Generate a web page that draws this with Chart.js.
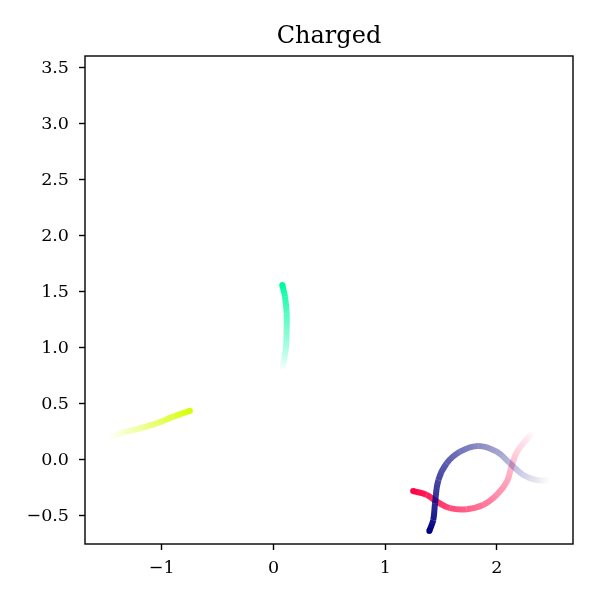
<!DOCTYPE html>
<html>
<head>
<meta charset="utf-8">
<script src="https://cdn.jsdelivr.net/npm/chart.js@4/dist/chart.umd.min.js"></script>
<style>
  body { margin: 0; background: #fff; }
  #grafico { display: block; }
</style>
</head>
<body>
<canvas id="grafico" width="600" height="600"></canvas>
<script>
// trajetórias (da cauda apagada até a cabeça sólida)
const navyX = [2.475, 2.356, 2.236, 2.117, 1.998, 1.834, 1.67, 1.55, 1.476, 1.446, 1.43, 1.395];
const navyY = [-0.179, -0.179, -0.134, -0.03, 0.074, 0.125, 0.074, -0.03, -0.179, -0.387, -0.536, -0.634];

const redX = [2.33, 2.27, 2.18, 2.13, 2.09, 2.0, 1.88, 1.73, 1.58, 1.46, 1.37, 1.25];
const redY = [0.25, 0.19, 0.074, -0.06, -0.19, -0.31, -0.40, -0.44, -0.43, -0.37, -0.31, -0.277];

const greenX = [0.073, 0.094, 0.112, 0.118, 0.118, 0.103, 0.079];
const greenY = [0.80, 0.89, 1.01, 1.16, 1.31, 1.458, 1.5625];

const limeX = [-1.479, -1.345, -1.195, -1.046, -0.897, -0.748];
const limeY = [0.203, 0.244, 0.283, 0.327, 0.387, 0.44];

const xTicks = [-1, 0, 1, 2];
const yTicks = [-0.5, 0, 0.5, 1, 1.5, 2, 2.5, 3, 3.5];

const fonte = "'DejaVu Serif', serif";

function pontos(xs, ys) {
  return xs.map((x, i) => ({ x: x, y: ys[i] }));
}

// cada segmento recebe um degradê de transparência, mais forte perto da cabeça
function serie(xs, ys, rgb) {
  const n = xs.length;
  const alfa = (i) => Math.max(0, i / (n - 1)).toFixed(3);
  return {
    data: pontos(xs, ys),
    showLine: true,
    pointRadius: (c) => (c.dataIndex === n - 1 ? 3 : 0),
    pointBorderWidth: 0,
    pointBackgroundColor: "rgb(" + rgb + ")",
    borderWidth: 6,
    borderCapStyle: "butt",
    tension: 0.4,
    borderColor: "rgb(" + rgb + ")",
    segment: {
      borderColor: (c) => {
        const g = c.chart.ctx.createLinearGradient(c.p0.x, c.p0.y, c.p1.x, c.p1.y);
        g.addColorStop(0, "rgba(" + rgb + "," + alfa(c.p0DataIndex) + ")");
        g.addColorStop(1, "rgba(" + rgb + "," + alfa(c.p1DataIndex) + ")");
        return g;
      },
    },
  };
}

const menos = (s) => s.replace("-", "\u2212");

// moldura do gráfico e título
const moldura = {
  id: "moldura",
  afterDraw(chart) {
    const a = chart.chartArea;
    const ctx = chart.ctx;
    ctx.save();
    ctx.strokeStyle = "#000";
    ctx.lineWidth = 1.4;
    ctx.strokeRect(Math.round(a.left), Math.round(a.top), Math.round(a.right - a.left), Math.round(a.bottom - a.top));
    ctx.fillStyle = "#000";
    ctx.font = "24px " + fonte;
    ctx.textAlign = "center";
    ctx.textBaseline = "alphabetic";
    ctx.fillText("Charged", (a.left + a.right) / 2, 43);
    ctx.restore();
  },
};

const ctx = document.getElementById("grafico");

new Chart(ctx, {
  type: "scatter",
  data: {
    datasets: [
      serie(limeX, limeY, "215,255,10"),
      serie(greenX, greenY, "0,250,160"),
      serie(navyX, navyY, "0,0,128"),
      serie(redX, redY, "255,5,70"),
    ],
  },
  options: {
    responsive: false,
    animation: false,
    layout: { padding: { top: 56, right: 27, left: 0, bottom: 0 } },
    plugins: { legend: { display: false }, tooltip: { enabled: false } },
    scales: {
      x: {
        type: "linear",
        min: -1.687,
        max: 2.681,
        afterBuildTicks: (s) => { s.ticks = xTicks.map((v) => ({ value: v })); },
        afterFit: (s) => { s.height = 56; },
        grid: { drawOnChartArea: false, drawTicks: true, tickLength: 6, tickWidth: 1.4, color: "#000" },
        border: { display: false },
        ticks: {
          color: "#000",
          font: { family: fonte, size: 17.5 },
          padding: 8,
          maxRotation: 0,
          callback: (v) => menos(String(v)),
        },
      },
      y: {
        type: "linear",
        min: -0.75,
        max: 3.607,
        afterBuildTicks: (s) => { s.ticks = yTicks.map((v) => ({ value: v })); },
        afterFit: (s) => { s.width = 85; },
        grid: { drawOnChartArea: false, drawTicks: true, tickLength: 6, tickWidth: 1.4, color: "#000" },
        border: { display: false },
        ticks: {
          color: "#000",
          font: { family: fonte, size: 17.5 },
          padding: 10,
          callback: (v) => menos(Number(v).toFixed(1)),
        },
      },
    },
  },
  plugins: [moldura],
});
</script>
</body>
</html>
